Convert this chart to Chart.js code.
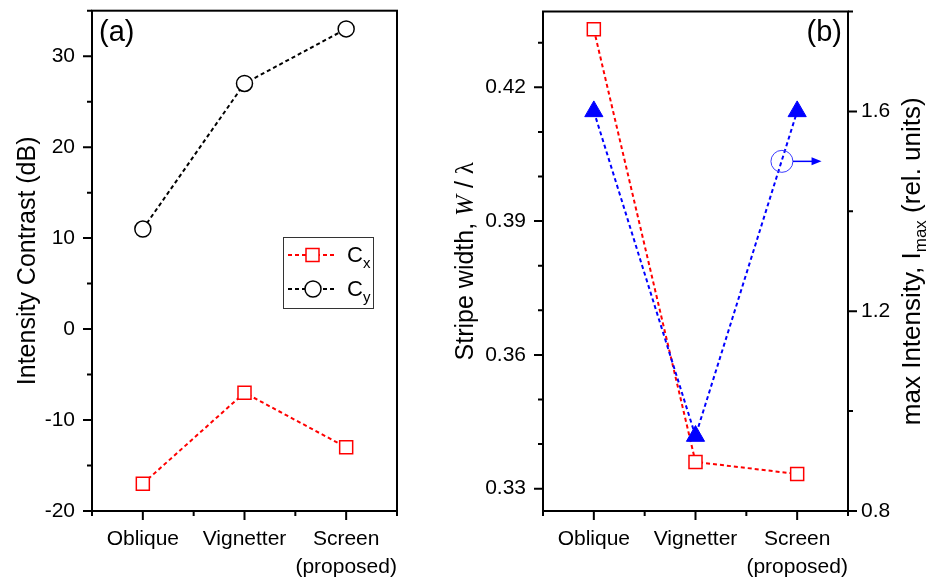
<!DOCTYPE html>
<html>
<head>
<meta charset="utf-8">
<script src="https://cdn.jsdelivr.net/npm/chart.js@4"></script>
<style>
  html, body { margin: 0; padding: 0; background: #fff; }
  #wrapA { position: absolute; left: 0; top: 0; width: 440px; height: 580px; }
  #wrapB { position: absolute; left: 440px; top: 0; width: 489px; height: 580px; }
</style>
</head>
<body>
<div id="wrapA"><canvas id="chartA"></canvas></div>
<div id="wrapB"><canvas id="chartB"></canvas></div>
<script>
const categories = ['Oblique', 'Vignetter', ['Screen', '(proposed)']]
const contrastX = [-17, -7, -13]
const contrastY = [11, 27, 33]
const stripeWidth = [0.433, 0.336, 0.3333]
const maxIntensity = [1.6, 0.95, 1.6]

const contrastLabels = [-20, -10, 0, 10, 20, 30]
const widthLabels = [0.33, 0.36, 0.39, 0.42]
const intensityLabels = [0.8, 1.2, 1.6]

// circled point with arrow -> belongs to right axis
const markerAt = { x: 2.85, y: 1.5 }
const arrowTo = 3.24

const FONT = '"Liberation Sans", Arial, sans-serif'
Chart.defaults.font.family = FONT
Chart.defaults.color = '#000'

const toPoints = vals => vals.map((v, i) => ({ x: i + 1, y: v }))
const near = (list, v) => list.some(l => Math.abs(l - v) < 1e-6)

// frame + outward ticks (long for labelled, short for the rest)
const frameTicks = {
  id: 'frameTicks',
  afterDraw(chart) {
    const { ctx, chartArea: a } = chart
    ctx.save()
    ctx.strokeStyle = '#000'
    ctx.lineWidth = 2
    ctx.beginPath()
    Object.values(chart.scales).forEach(s => {
      s.ticks.forEach(t => {
        const len = t.label === '' ? 5 : 9
        const p = s.getPixelForValue(t.value)
        if (s.position === 'bottom') { ctx.moveTo(p, a.bottom); ctx.lineTo(p, a.bottom + len) }
        else if (s.position === 'left') { ctx.moveTo(a.left - len, p); ctx.lineTo(a.left, p) }
        else if (s.position === 'right') { ctx.moveTo(a.right, p); ctx.lineTo(a.right + len, p) }
      })
    })
    ctx.stroke()
    ctx.strokeRect(a.left, a.top, a.right - a.left, a.bottom - a.top)
    ctx.restore()
  }
}

function drawRich(ctx, x, y, parts, rotate) {
  ctx.save()
  ctx.translate(x, y)
  if (rotate) ctx.rotate(-Math.PI / 2)
  let w = 0
  parts.forEach(p => { ctx.font = p.font; p.w = ctx.measureText(p.text).width; w += p.w })
  let cx = rotate ? -w / 2 : 0
  ctx.textAlign = 'left'
  ctx.textBaseline = 'alphabetic'
  ctx.fillStyle = '#000'
  parts.forEach(p => { ctx.font = p.font; ctx.fillText(p.text, cx, p.dy || 0); cx += p.w })
  ctx.restore()
}

const noPad = s => { s.paddingTop = 0; s.paddingBottom = 0; s.paddingLeft = 0; s.paddingRight = 0 }

function categoryAxis() {
  return {
    type: 'linear', position: 'bottom', min: 0.5, max: 3.5,
    grid: { display: false, drawTicks: false }, border: { display: false },
    ticks: {
      stepSize: 0.5, autoSkip: false, maxRotation: 0, padding: 15,
      font: { size: 21, lineHeight: 1.3 },
      callback: v => Number.isInteger(v) ? categories[v - 1] : ''
    },
    afterFit: s => { s.height = 69; noPad(s) }
  }
}

const dashed = { borderDash: [4, 3], borderWidth: 2, pointBorderWidth: 1.5, showLine: true }

// (a) intensity contrast
const panelA = {
  id: 'panelA',
  afterDraw(chart) {
    const { ctx, chartArea: a } = chart
    const big = '25px ' + FONT
    drawRich(ctx, 35, (a.top + a.bottom) / 2, [{ text: 'Intensity Contrast (dB)', font: big }], true)
    ctx.save()
    ctx.font = '29px ' + FONT
    ctx.fillStyle = '#000'
    ctx.textBaseline = 'middle'
    ctx.fillText('(a)', 99, 33)
    // legend
    ctx.strokeStyle = '#333'
    ctx.lineWidth = 1
    ctx.strokeRect(283.5, 237.5, 90, 71)
    const rows = [
      { y: 255, color: '#ff0000', shape: 'rect', sub: 'x' },
      { y: 289, color: '#000000', shape: 'circle', sub: 'y' }
    ]
    rows.forEach(r => {
      ctx.strokeStyle = r.color
      ctx.lineWidth = 2
      ctx.setLineDash([4, 3])
      ctx.beginPath(); ctx.moveTo(288, r.y); ctx.lineTo(337, r.y); ctx.stroke()
      ctx.setLineDash([])
      ctx.fillStyle = '#fff'
      ctx.lineWidth = 1.5
      ctx.beginPath()
      if (r.shape === 'rect') ctx.rect(306, r.y - 6.5, 13, 13)
      else ctx.arc(313, r.y, 8, 0, Math.PI * 2)
      ctx.fill(); ctx.stroke()
      drawRich(ctx, 347, r.y + 7, [
        { text: 'C', font: '22px ' + FONT },
        { text: r.sub, font: '15px ' + FONT, dy: 6 }
      ], false)
    })
    ctx.restore()
  }
}

new Chart(document.getElementById('chartA'), {
  type: 'line',
  data: {
    datasets: [{
      label: 'Cx', data: toPoints(contrastX), ...dashed,
      borderColor: '#ff0000', pointStyle: 'rect', pointRadius: 9.2,
      pointBorderColor: '#ff0000', pointBackgroundColor: '#fff'
    }, {
      label: 'Cy', data: toPoints(contrastY), ...dashed,
      borderColor: '#000', pointStyle: 'circle', pointRadius: 8,
      pointBorderColor: '#000', pointBackgroundColor: '#fff'
    }]
  },
  options: {
    responsive: true,
    maintainAspectRatio: false,
    animation: false,
    events: [],
    layout: { padding: { top: 5, right: 43, left: 0, bottom: 0 } },
    plugins: { legend: { display: false }, tooltip: { enabled: false } },
    scales: {
      x: categoryAxis(),
      y: {
        min: -20, max: 35,
        grid: { display: false, drawTicks: false }, border: { display: false },
        ticks: {
          stepSize: 5, padding: 17, font: { size: 21 },
          callback: v => near(contrastLabels, v) ? String(v) : ''
        },
        afterFit: s => { s.width = 92; noPad(s) }
      }
    }
  },
  plugins: [frameTicks, panelA]
})

// (b) stripe width and max intensity
const panelB = {
  id: 'panelB',
  afterDatasetsDraw(chart) {
    const { ctx, scales } = chart
    const cx = scales.x.getPixelForValue(markerAt.x)
    const cy = scales.y1.getPixelForValue(markerAt.y)
    const ax = scales.x.getPixelForValue(arrowTo)
    ctx.save()
    ctx.strokeStyle = '#3b3bff'
    ctx.lineWidth = 1
    ctx.beginPath(); ctx.arc(cx, cy, 11, 0, Math.PI * 2); ctx.stroke()
    ctx.strokeStyle = '#0000ff'
    ctx.lineWidth = 1.5
    ctx.beginPath(); ctx.moveTo(cx + 11, cy); ctx.lineTo(ax - 6, cy); ctx.stroke()
    ctx.fillStyle = '#0000ff'
    ctx.beginPath(); ctx.moveTo(ax, cy); ctx.lineTo(ax - 10, cy - 4); ctx.lineTo(ax - 10, cy + 4); ctx.closePath(); ctx.fill()
    ctx.restore()
  },
  afterDraw(chart) {
    const { ctx, chartArea: a } = chart
    const big = '25px ' + FONT
    const mid = (a.top + a.bottom) / 2
    drawRich(ctx, 33, mid, [
      { text: 'Stripe width, ', font: big },
      { text: 'W', font: 'italic 25px "Liberation Serif", serif' },
      { text: ' / ', font: big },
      { text: 'λ', font: '25px "Liberation Serif", serif' }
    ], true)
    drawRich(ctx, 480, mid, [
      { text: 'max Intensity, I', font: '26px ' + FONT },
      { text: 'max', font: '17px ' + FONT, dy: 6 },
      { text: ' (rel. units)', font: '26px ' + FONT }
    ], true)
    ctx.save()
    ctx.font = '29px ' + FONT
    ctx.fillStyle = '#000'
    ctx.textAlign = 'right'
    ctx.textBaseline = 'middle'
    ctx.fillText('(b)', 402, 33)
    ctx.restore()
  }
}

new Chart(document.getElementById('chartB'), {
  type: 'line',
  data: {
    datasets: [{
      label: 'Stripe width', data: toPoints(stripeWidth), yAxisID: 'y', order: 1, ...dashed,
      borderColor: '#ff0000', pointStyle: 'rect', pointRadius: 9.2,
      pointBorderColor: '#ff0000', pointBackgroundColor: '#fff'
    }, {
      label: 'max Intensity', data: toPoints(maxIntensity), yAxisID: 'y1', order: 0, ...dashed,
      borderColor: '#0000ff', pointStyle: 'triangle', pointRadius: 10.5,
      pointBorderColor: '#0000ff', pointBackgroundColor: '#0000ff', pointBorderWidth: 1
    }]
  },
  options: {
    responsive: true,
    maintainAspectRatio: false,
    animation: false,
    events: [],
    layout: { padding: { top: 5, right: 0, left: 0, bottom: 0 } },
    plugins: { legend: { display: false }, tooltip: { enabled: false } },
    scales: {
      x: categoryAxis(),
      y: {
        position: 'left', min: 0.325, max: 0.437,
        grid: { display: false, drawTicks: false }, border: { display: false },
        ticks: {
          stepSize: 0.01, includeBounds: false, padding: 17, font: { size: 21 },
          callback: v => near(widthLabels, v) ? v.toFixed(2) : ''
        },
        afterFit: s => { s.width = 103; noPad(s) }
      },
      y1: {
        position: 'right', min: 0.8, max: 1.8,
        grid: { display: false, drawTicks: false }, border: { display: false },
        ticks: {
          stepSize: 0.2, padding: 13, font: { size: 21 },
          callback: v => near(intensityLabels, v) ? v.toFixed(1) : ''
        },
        afterFit: s => { s.width = 81; noPad(s) }
      }
    }
  },
  plugins: [frameTicks, panelB]
})
</script>
</body>
</html>
